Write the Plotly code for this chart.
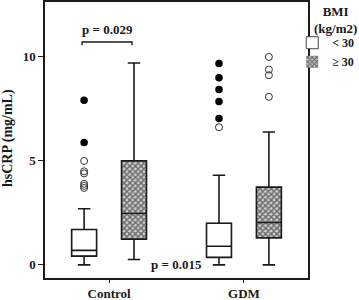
import plotly.graph_objects as go

categories = ["Control", "GDM"]

# BMI < 30
lt_low = [0.0, 0.0]
lt_q1 = [0.42, 0.36]
lt_med = [0.70, 0.90]
lt_q3 = [1.70, 2.00]
lt_high = [2.70, 4.31]

# BMI >= 30
ge_low = [0.26, 0.0]
ge_q1 = [1.24, 1.30]
ge_med = [2.47, 2.04]
ge_q3 = [5.00, 3.74]
ge_high = [9.71, 6.39]

# outliers (open) and extremes (filled)
lt_out_x = ["Control"] * 6 + ["GDM"]
lt_out_y = [5.0, 4.5, 4.4, 3.9, 3.8, 3.7, 6.62]
lt_ext_x = ["Control", "Control", "GDM", "GDM", "GDM", "GDM", "GDM"]
lt_ext_y = [7.92, 5.88, 9.68, 9.0, 8.43, 7.86, 7.04]
ge_out_x = ["GDM"] * 4
ge_out_y = [10.0, 9.39, 9.12, 8.08]

FONT = "Liberation Serif"
BLACK = "#1a1a1a"

fig = go.Figure()

# patterned/white box bodies (bars from q1 to q3)
fig.add_trace(go.Bar(
    x=categories, y=[b - a for a, b in zip(lt_q1, lt_q3)], base=lt_q1,
    name="<b>< 30</b>", offsetgroup="lt", legendgroup="lt",
    marker=dict(color="white", line=dict(width=1, color="#444")),
    hoverinfo="skip"))
fig.add_trace(go.Bar(
    x=categories, y=[b - a for a, b in zip(ge_q1, ge_q3)], base=ge_q1,
    name="<b>≥ 30</b>", offsetgroup="ge", legendgroup="ge",
    marker=dict(color="white", line=dict(width=0),
                pattern=dict(shape="x", size=4, solidity=0.6,
                             fgcolor="#000000", bgcolor="#d0d0d0")),
    hoverinfo="skip"))

# box outlines
fig.add_trace(go.Box(
    x=categories, q1=lt_q1, median=lt_med, q3=lt_q3,
    lowerfence=lt_low, upperfence=lt_high,
    offsetgroup="lt", showlegend=False, boxpoints=False,
    fillcolor="rgba(0,0,0,0)", line=dict(color=BLACK, width=1.6),
    whiskerwidth=0.5))
fig.add_trace(go.Box(
    x=categories, q1=ge_q1, median=ge_med, q3=ge_q3,
    lowerfence=ge_low, upperfence=ge_high,
    offsetgroup="ge", showlegend=False, boxpoints=False,
    fillcolor="rgba(0,0,0,0)", line=dict(color=BLACK, width=1.6),
    whiskerwidth=0.5))

# outlier points
fig.add_trace(go.Scatter(
    x=lt_out_x, y=lt_out_y, mode="markers", offsetgroup="lt", showlegend=False,
    marker=dict(symbol="circle-open", size=7, color="#333", line=dict(width=1))))
fig.add_trace(go.Scatter(
    x=lt_ext_x, y=lt_ext_y, mode="markers", offsetgroup="lt", showlegend=False,
    marker=dict(symbol="circle", size=7.5, color="#000")))
fig.add_trace(go.Scatter(
    x=ge_out_x, y=ge_out_y, mode="markers", offsetgroup="ge", showlegend=False,
    marker=dict(symbol="circle-open", size=7, color="#333", line=dict(width=1))))

# significance bracket
fig.add_shape(type="path", xref="x", yref="y",
              path="M -0.2,10.56 L -0.2,10.72 L 0.17,10.72 L 0.17,10.56",
              line=dict(color=BLACK, width=1.4))
fig.add_annotation(x=-0.015, y=11.33, xref="x", yref="y", text="<b>p = 0.029</b>",
                   showarrow=False, font=dict(family=FONT, size=13, color=BLACK))
fig.add_annotation(x=0.5, y=0.0, xref="x", yref="y", text="<b>p = 0.015</b>",
                   showarrow=False, font=dict(family=FONT, size=13, color=BLACK))

# legend title
fig.add_annotation(x=(335 - 45) / 263, y=1 - (20 - 2) / 276, xref="paper", yref="paper",
                   xanchor="center", yanchor="middle",
                   text="<b>BMI<br>(kg/m2)</b>",
                   showarrow=False, font=dict(family=FONT, size=13, color=BLACK))

# y axis title
fig.add_annotation(x=(8 - 45) / 263, y=1 - (138 - 2) / 276, xref="paper", yref="paper",
                   xanchor="center", yanchor="middle", textangle=-90,
                   text="<b>hsCRP (mg/mL)</b>",
                   showarrow=False, font=dict(family=FONT, size=14, color=BLACK))

fig.update_layout(
    width=359, height=300,
    margin=dict(l=45, r=51, t=2, b=22, autoexpand=False),
    paper_bgcolor="white", plot_bgcolor="white",
    barmode="group", bargap=0.26, bargroupgap=0.5,
    boxmode="group", boxgap=0.26, boxgroupgap=0.5,
    scattermode="group", scattergap=0.26,
    font=dict(family=FONT, size=13, color=BLACK),
    showlegend=True,
    legend=dict(
        x=0.94, xref="paper", xanchor="left", y=0.905, yanchor="top",
        font=dict(family=FONT, size=12, color=BLACK),
        tracegroupgap=0, itemwidth=30, bgcolor="rgba(0,0,0,0)"),
)

fig.update_xaxes(
    type="category", range=[-0.475, 1.475],
    showline=True, linecolor=BLACK, linewidth=1.5, mirror=True,
    ticks="outside", ticklen=3, tickcolor=BLACK, tickwidth=1,
    tickfont=dict(family=FONT, size=13, color=BLACK),
    tickprefix="<b>", ticksuffix="</b>", showgrid=False, zeroline=False)
fig.update_yaxes(
    range=[-0.63, 12.64],
    tickvals=[0, 5, 10], ticktext=["<b>0</b>", "<b>5</b>", "<b>10</b>"],
    showline=True, linecolor=BLACK, linewidth=1.5, mirror=True,
    ticks="outside", ticklen=5, tickcolor=BLACK, tickwidth=1,
    tickfont=dict(family=FONT, size=13, color=BLACK),
    showgrid=False, zeroline=False)

fig.write_html("out.html", config={"displayModeBar": False},
               post_script="document.body.style.margin='0';document.body.style.padding='0';")
